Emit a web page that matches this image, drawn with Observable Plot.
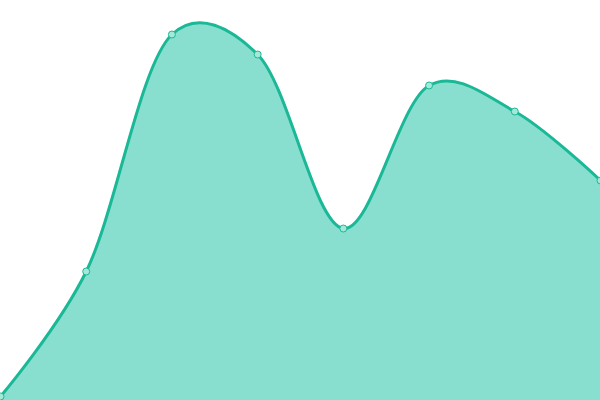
<!DOCTYPE html>
<html><head><meta charset="utf-8">
<script src="https://cdn.jsdelivr.net/npm/d3@7"></script>
<script src="https://cdn.jsdelivr.net/npm/@observablehq/plot@0.6"></script>
<style>html,body{margin:0;padding:0;background:#fff;overflow:hidden}</style>
</head><body><div id="chart"></div>
<script>
const xs = [0, 1, 2, 3, 4, 5, 6, 7];
const values = [4, 129, 366, 346, 172, 315, 289, 220];
const data = xs.map((x, i) => ({x, v: values[i]}));
const curve = d3.curveCatmullRom.alpha(0.2);
const chart = Plot.plot({
  width: 600, height: 400,
  margin: 0,
  x: {domain: [0, 7], axis: null},
  y: {domain: [0, 400], axis: null},
  marks: [
    Plot.areaY(data, {x: "x", y: "v", curve, fill: "#89dfcf"}),
    Plot.lineY(data, {x: "x", y: "v", curve, stroke: "#1ab897", strokeWidth: 3}),
    Plot.dot(data, {x: "x", y: "v", r: 3.5, fill: "#a3e9d8", stroke: "#1ab897", strokeWidth: 1})
  ]
});
document.getElementById("chart").appendChild(chart);
</script></body></html>
